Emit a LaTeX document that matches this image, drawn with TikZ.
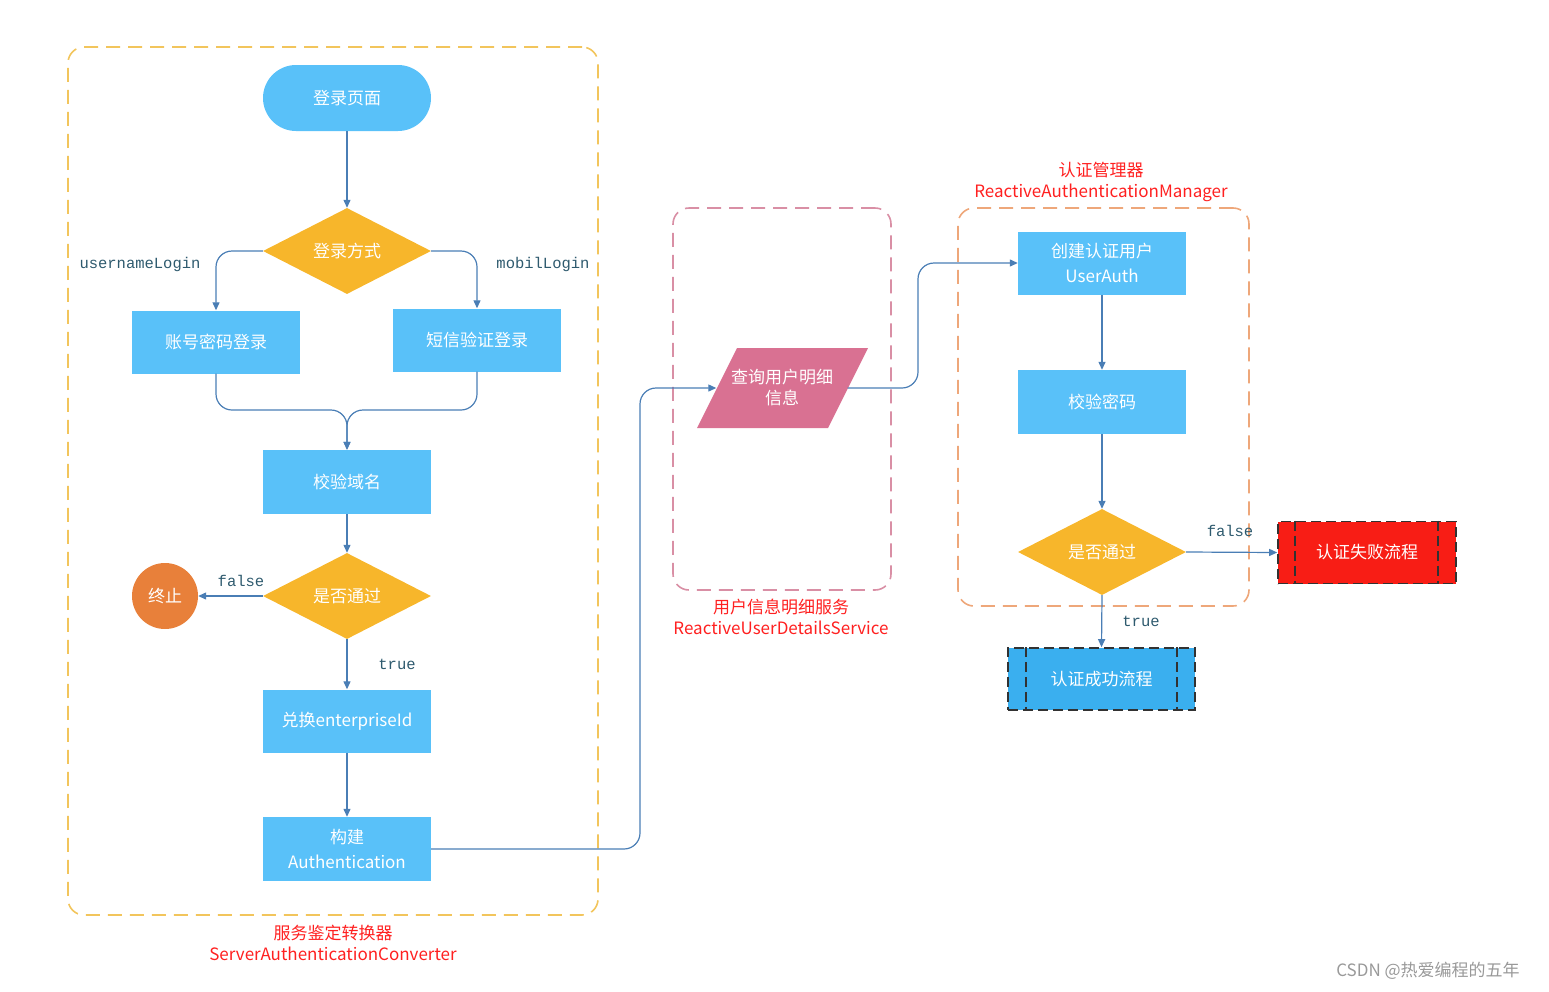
\documentclass[tikz,border=0pt]{standalone}
\usepackage{fontspec}
\setmainfont{Noto Sans CJK SC}
\newfontfamily\monolbl{Liberation Mono}
\usetikzlibrary{shapes.geometric,arrows.meta,calc}
\definecolor{boxblue}{RGB}{89,193,249}
\definecolor{okblue}{RGB}{58,175,239}
\definecolor{dia}{RGB}{247,182,43}
\definecolor{stopc}{RGB}{232,128,58}
\definecolor{pinkf}{RGB}{217,113,146}
\definecolor{redf}{RGB}{248,29,21}
\definecolor{edgec}{RGB}{74,126,181}
\definecolor{ylw}{RGB}{242,197,92}
\definecolor{pinkd}{RGB}{217,143,165}
\definecolor{orgd}{RGB}{238,167,122}
\definecolor{lblred}{RGB}{255,32,32}
\definecolor{monoc}{RGB}{46,90,110}
\definecolor{borderd}{RGB}{50,50,50}
\tikzset{
  txt/.style={font=\fontsize{17}{21}\selectfont, text=white, align=center},
  procbox/.style={txt, rectangle, fill=boxblue, minimum width=168pt, minimum height=63pt, inner sep=2pt},
  decision/.style={txt, diamond, fill=dia, minimum width=168pt, minimum height=86pt, inner sep=0pt},
  edge/.style={draw=edgec, line width=1.2pt, -{Triangle[length=8pt,width=7pt]}, rounded corners=16pt},
  grp/.style={rectangle, dashed, dash pattern=on 14pt off 8pt, line width=1.6pt, rounded corners=16pt},
  grplbl/.style={text=lblred, font=\fontsize{17}{21}\selectfont, align=center},
  monolabel/.style={text=monoc, font=\monolbl\fontsize{15.5}{18}\selectfont},
  endbox/.style={txt, rectangle, draw=borderd, dash pattern=on 10pt off 5pt, line width=1.6pt, minimum width=178pt, minimum height=62pt}
}
\begin{document}
\begin{tikzpicture}[x=1pt, y=-1pt]
\useasboundingbox (0,0) rectangle (1549,991);
% groups
\node[grp, draw=ylw, minimum width=530pt, minimum height=868pt] (g1) at (333,481) {};
\node[grplbl] (g1l) at (333,943) {服务鉴定转换器\\ServerAuthenticationConverter};
\node[grp, draw=pinkd, minimum width=218pt, minimum height=382pt] (g2) at (782,399) {};
\node[grplbl] (g2l) at (781,617) {用户信息明细服务\\ReactiveUserDetailsService};
\node[grp, draw=orgd, minimum width=291pt, minimum height=398pt] (g3) at (1103.5,407) {};
\node[grplbl] (g3l) at (1101,182) {认证管理器\\ReactiveAuthenticationManager};

% left flow
\node[txt, rectangle, fill=boxblue, rounded corners=33pt, minimum width=168pt, minimum height=66pt] (login) at (347,98) {登录页面};
\node[decision] (way) at (347,251) {登录方式};
\node[procbox] (pwd) at (216,342) {账号密码登录};
\node[procbox] (sms) at (477,340) {短信验证登录};
\coordinate (merge) at (347,410);
\node[procbox, minimum height=64pt] (domain) at (347,482) {校验域名};
\node[decision] (pass1) at (347,596) {是否通过};
\node[txt, circle, fill=stopc, minimum size=66pt, inner sep=0pt] (stop) at (165,596) {终止};
\node[procbox] (ent) at (347,721) {兑换enterpriseId};
\node[procbox, minimum height=64pt, font=\fontsize{17}{25}\selectfont] (auth) at (347,849) {构建\\Authentication};

\draw[edge] (login) -- (way);
\draw[edge] (way.west) -| (pwd.north);
\draw[edge] (way.east) -| (sms.north);
\node[monolabel] (ul) at (140,264) {usernameLogin};
\node[monolabel] (ml) at (543,264) {mobilLogin};
\draw[edge] (pwd.south) |- (merge) -- (domain.north);
\draw[edge] (sms.south) |- (merge) -- (domain.north);
\draw[edge] (domain) -- (pass1);
\draw[edge] (pass1.west) -- (stop.east);
\node[monolabel] (f1) at (241,581) {false};
\draw[edge] (pass1.south) -- (ent.north);
\node[monolabel] (t1) at (397,664) {true};
\draw[edge] (ent) -- (auth);

% middle
\fill[pinkf] (737,348) -- (868,348) -- (828,428) -- (697,428) -- cycle;
\node[txt, rectangle, minimum width=131pt, minimum height=80pt, inner sep=0pt, font=\fontsize{17}{21}\selectfont] (query) at (782,388) {查询用户明细\\信息};
\coordinate (c1) at (640,0);
\draw[edge] (auth.east) -- (auth.east -| c1) |- (query.west);

% right flow
\node[procbox, font=\fontsize{17}{25}\selectfont] (ua) at (1102,263) {创建认证用户\\UserAuth};
\coordinate (c2) at (918,0);
\draw[edge] (query.east) -- (query.east -| c2) |- (ua.west);
\node[procbox, minimum height=64pt] (chk) at (1102,402) {校验密码};
\node[decision] (pass2) at (1102,552) {是否通过};
\draw[edge] (ua) -- (chk);
\draw[edge] (chk) -- (pass2);

\node[endbox, fill=redf] (fail) at (1367,552.5) {认证失败流程};
\draw[borderd, dash pattern=on 10pt off 5pt, line width=1.6pt] ($(fail.north west)+(18,0)$) -- ($(fail.south west)+(18,0)$);
\draw[borderd, dash pattern=on 10pt off 5pt, line width=1.6pt] ($(fail.north east)+(-19,0)$) -- ($(fail.south east)+(-19,0)$);
\draw[edge] (pass2.east) -- (fail.west);
\node[monolabel] (f2) at (1230,531) {false};

\node[endbox, fill=okblue, minimum width=187pt] (ok) at (1101.5,679) {认证成功流程};
\draw[borderd, dash pattern=on 10pt off 5pt, line width=1.6pt] ($(ok.north west)+(19,0)$) -- ($(ok.south west)+(19,0)$);
\draw[borderd, dash pattern=on 10pt off 5pt, line width=1.6pt] ($(ok.north east)+(-19,0)$) -- ($(ok.south east)+(-19,0)$);
\draw[edge] (pass2.south) -- (ok.north);
\node[monolabel] (t2) at (1141,621) {true};

\node[text=gray!80, font=\fontsize{17}{21}\selectfont] (wm) at (1428,971) {CSDN @热爱编程的五年};
\end{tikzpicture}
\end{document}
